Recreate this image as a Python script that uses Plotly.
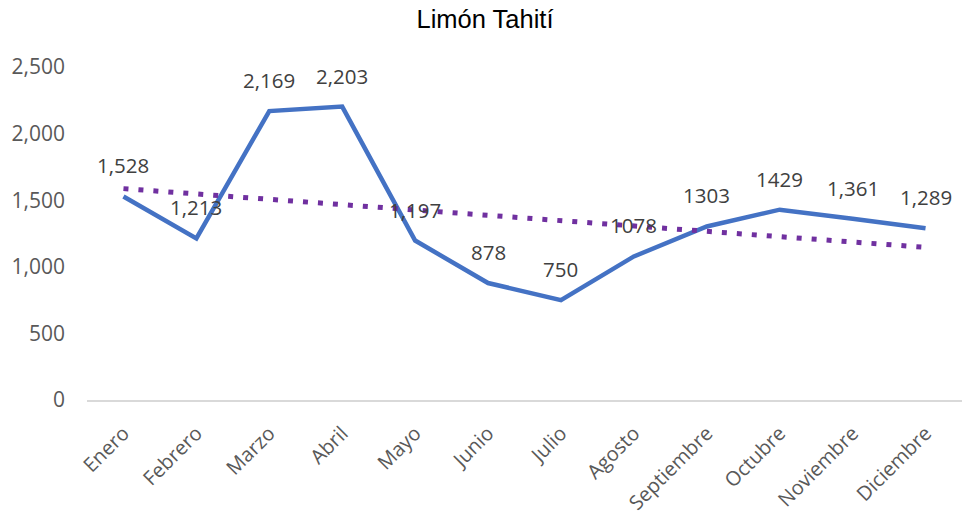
import numpy as np
import plotly.graph_objects as go

months = ["Enero", "Febrero", "Marzo", "Abril", "Mayo", "Junio", "Julio",
          "Agosto", "Septiembre", "Octubre", "Noviembre", "Diciembre"]
values = [1528, 1213, 2169, 2203, 1197, 878, 750, 1078, 1303, 1429, 1361, 1289]
value_labels = ["1,528", "1,213", "2,169", "2,203", "1,197", "878", "750",
                "1078", "1303", "1429", "1,361", "1,289"]
y_ticks = [0, 500, 1000, 1500, 2000, 2500]
y_tick_labels = ["0", "500", "1,000", "1,500", "2,000", "2,500"]

# Linear trendline (least squares), as in the spreadsheet's trendline
xi = np.arange(1, len(values) + 1)
slope, intercept = np.polyfit(xi, values, 1)
trend = slope * xi + intercept

fig = go.Figure()
fig.add_trace(go.Scatter(
    x=months, y=values, mode="lines",
    line=dict(color="#4472C4", width=4.5), hoverinfo="skip", showlegend=False))
fig.add_trace(go.Scatter(
    x=months, y=trend, mode="lines",
    line=dict(color="#7030A0", width=5, dash="5px,10px"), hoverinfo="skip", showlegend=False))

for m, v, t in zip(months, values, value_labels):
    fig.add_annotation(x=m, y=v, text=t, showarrow=False, yshift=31,
                       font=dict(family="Open Sans", size=20.5, color="#404040"))

fig.update_layout(
    width=963, height=517,
    margin=dict(l=87, r=1, t=67, b=117),
    paper_bgcolor="white", plot_bgcolor="white",
    title=dict(text="Limón Tahití", x=485 / 963, xanchor="center", y=1 - 19 / 517, yanchor="middle",
               font=dict(family="Liberation Sans, Arial", size=25.5, color="#000000")),
    showlegend=False,
)
fig.update_xaxes(
    type="category", range=[-0.5, 11.5], showgrid=False, zeroline=False, automargin=False,
    showline=True, linecolor="#D9D9D9", linewidth=1.5,
    tickangle=-45, ticks="", ticklabelstandoff=12,
    tickfont=dict(family="Open Sans", size=20, color="#595959"))
fig.update_yaxes(
    range=[0, 2500], tickvals=y_ticks, ticktext=y_tick_labels, automargin=False,
    showgrid=False, zeroline=False, showline=False, ticks="", ticklabelstandoff=21,
    tickfont=dict(family="Open Sans", size=21, color="#595959"))

fig.write_html("out.html", config={"displayModeBar": False},
               post_script="document.body.style.margin='0';document.body.style.overflow='hidden';")
